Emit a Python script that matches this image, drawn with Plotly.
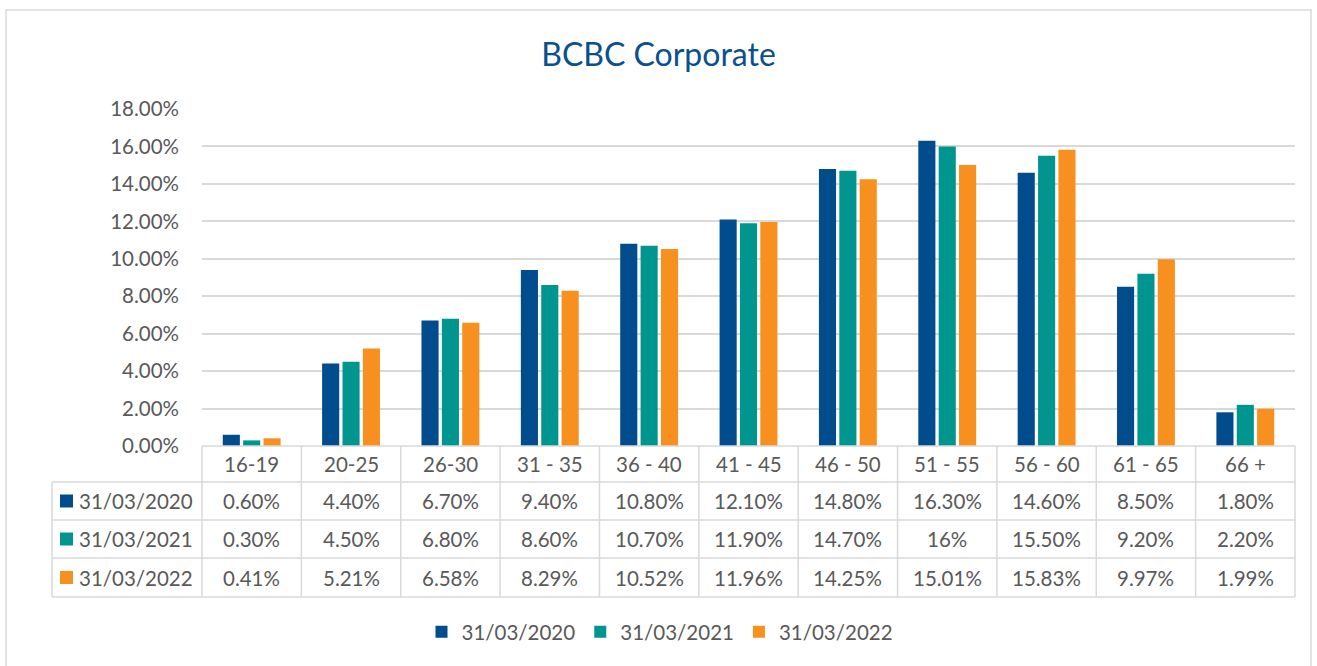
import plotly.graph_objects as go

categories = ["16-19", "20-25", "26-30", "31 - 35", "36 - 40", "41 - 45", "46 - 50", "51 - 55", "56 - 60", "61 - 65", "66 +"]
series_names = ["31/03/2020", "31/03/2021", "31/03/2022"]
v2020 = [0.60, 4.40, 6.70, 9.40, 10.80, 12.10, 14.80, 16.30, 14.60, 8.50, 1.80]
v2021 = [0.30, 4.50, 6.80, 8.60, 10.70, 11.90, 14.70, 16.00, 15.50, 9.20, 2.20]
v2022 = [0.41, 5.21, 6.58, 8.29, 10.52, 11.96, 14.25, 15.01, 15.83, 9.97, 1.99]
t2020 = ["0.60%", "4.40%", "6.70%", "9.40%", "10.80%", "12.10%", "14.80%", "16.30%", "14.60%", "8.50%", "1.80%"]
t2021 = ["0.30%", "4.50%", "6.80%", "8.60%", "10.70%", "11.90%", "14.70%", "16%", "15.50%", "9.20%", "2.20%"]
t2022 = ["0.41%", "5.21%", "6.58%", "8.29%", "10.52%", "11.96%", "14.25%", "15.01%", "15.83%", "9.97%", "1.99%"]
colors = ["#004C8C", "#00958F", "#F7901E"]

W, H = 1317, 666
L, R, T, B = 202, 22, 109, 220
PW = W - L - R
PH = H - T - B
FONT = "Lato"
FS = 20.5
TXT = "#595959"
GRID = "#D9D9D9"


def px(xp):
    return (xp - L) / PW


def py(yp):
    return (H - B - yp) / PH


fig = go.Figure()
for name, vals, col in zip(series_names, [v2020, v2021, v2022], colors):
    fig.add_trace(go.Bar(x=categories, y=vals, name=name, marker=dict(color=col, line=dict(width=0))))

n = len(categories)
shapes = []
annotations = []
line = dict(color=GRID, width=1.5)
top, hdr_bot = H - B, 482
row_bounds = [482, 520, 558, 597]
left_x = 52
shapes.append(dict(type="line", xref="paper", yref="paper", x0=0, x1=1, y0=py(top), y1=py(top), line=line))
for yb in row_bounds:
    shapes.append(dict(type="line", xref="paper", yref="paper", x0=px(left_x), x1=1, y0=py(yb), y1=py(yb), line=line))
for k in range(n + 1):
    shapes.append(dict(type="line", xref="paper", yref="paper", x0=k / n, x1=k / n, y0=py(top), y1=py(597), line=line))
shapes.append(dict(type="line", xref="paper", yref="paper", x0=px(left_x), x1=px(left_x), y0=py(482), y1=py(597), line=line))
shapes.append(dict(type="rect", xref="paper", yref="paper", x0=px(6), x1=px(1311), y0=py(10), y1=py(700),
                   line=dict(color=GRID, width=1.5), layer="below"))

for i, c in enumerate(categories):
    annotations.append(dict(xref="paper", yref="paper", x=(i + 0.5) / n, y=py((top + hdr_bot) / 2), text=c,
                            showarrow=False, font=dict(family=FONT, size=FS, color=TXT), xanchor="center", yanchor="middle"))
for r, (name, texts, col) in enumerate(zip(series_names, [t2020, t2021, t2022], colors)):
    yc = (row_bounds[r] + row_bounds[r + 1]) / 2
    shapes.append(dict(type="rect", xref="paper", yref="paper", x0=px(60), x1=px(73), y0=py(yc - 6.5), y1=py(yc + 6.5),
                       fillcolor=col, line=dict(width=0)))
    annotations.append(dict(xref="paper", yref="paper", x=px(77), y=py(yc), text=name, showarrow=False,
                            font=dict(family=FONT, size=FS, color=TXT), xanchor="left", yanchor="middle"))
    for i, t in enumerate(texts):
        annotations.append(dict(xref="paper", yref="paper", x=(i + 0.5) / n, y=py(yc), text=t, showarrow=False,
                                font=dict(family=FONT, size=FS, color=TXT), xanchor="center", yanchor="middle"))

fig.update_layout(
    width=W, height=H,
    margin=dict(l=L, r=R, t=T, b=B),
    paper_bgcolor="white", plot_bgcolor="white",
    title=dict(text="BCBC Corporate", x=0.5, xanchor="center", y=1 - 55 / H, yanchor="middle",
               font=dict(family=FONT, size=32, color="#0A4F8E")),
    barmode="group", bargap=0.385, bargroupgap=0.16,
    showlegend=True,
    legend=dict(orientation="h", x=px(660), xanchor="center", y=py(632), yanchor="middle",
                font=dict(family=FONT, size=FS, color=TXT), itemwidth=30, traceorder="normal"),
    xaxis=dict(showticklabels=False, showline=False, showgrid=False, ticks=""),
    yaxis=dict(range=[0, 18], dtick=2, tickformat=".2f", ticksuffix="%", showgrid=True, gridcolor=GRID, gridwidth=1.5,
               zeroline=False, showline=False, ticks="", ticklabelstandoff=22,
               tickfont=dict(family=FONT, size=FS, color=TXT)),
    shapes=shapes, annotations=annotations,
    font=dict(family=FONT),
)
fig.write_html("out.html", config={"displayModeBar": False},
               post_script="document.body.style.margin='0px';document.body.style.padding='0px';")
